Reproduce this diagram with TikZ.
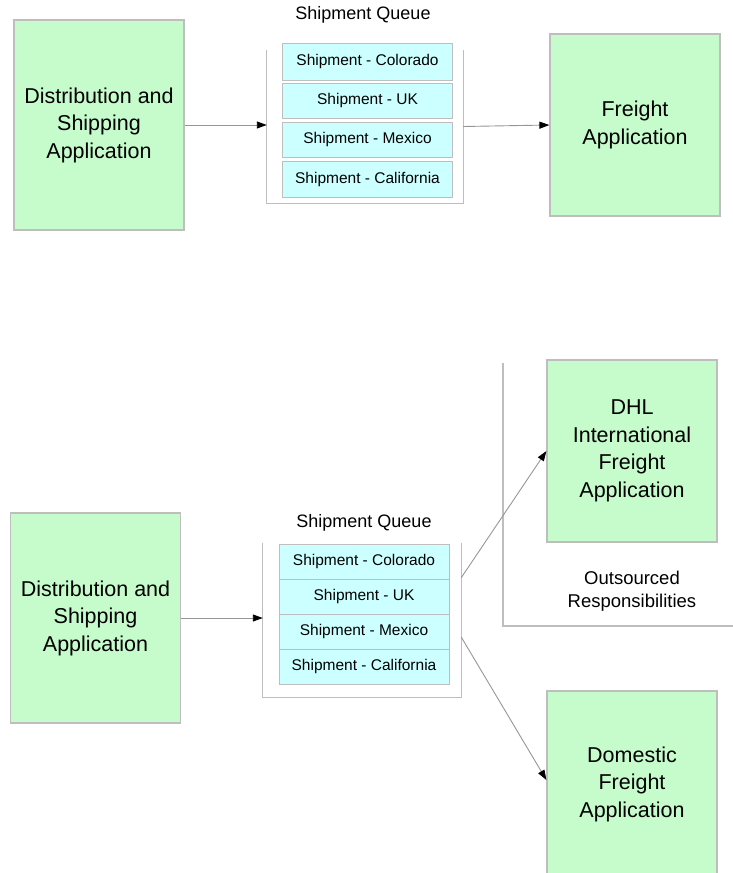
\documentclass[tikz,border=0pt]{standalone}
\usepackage{fontspec}
\setmainfont{Liberation Sans}
\usetikzlibrary{arrows.meta,calc}
\definecolor{appgreen}{RGB}{198,252,204}
\definecolor{cellcyan}{RGB}{204,255,255}
\definecolor{edgegray}{RGB}{190,190,190}
\definecolor{linegray}{RGB}{150,150,150}
\tikzset{
  app/.style={draw=edgegray, fill=appgreen, line width=1.2pt, minimum width=170pt,
    inner sep=0pt, align=center, font=\fontsize{21.5}{27.5}\selectfont},
  cell/.style={draw=edgegray, fill=cellcyan, line width=1pt, minimum width=170pt,
    minimum height=35pt, inner sep=0pt, font=\fontsize{15.5}{18}\selectfont},
  qlabel/.style={inner sep=0pt, font=\fontsize{18}{22}\selectfont},
  noteText/.style={inner sep=0pt, align=center, font=\fontsize{18.5}{23}\selectfont},
  tray/.style={draw=edgegray, line width=1.2pt},
  flow/.style={draw=linegray, line width=0.9pt,
    -{Triangle[length=10pt,width=7pt,color=black]}},
}
\begin{document}
\begin{tikzpicture}[x=1pt, y=-1pt]
\useasboundingbox (0,0) rectangle (732,873);

% ---------- single freight consumer ----------
\node[app, minimum height=210pt] (distA) at (99,125) {Distribution and\\Shipping\\Application};
\node[minimum width=196pt, minimum height=153pt, inner sep=0pt] (trayA) at (365,126.5) {};
\draw[tray] (trayA.north west) |- (trayA.south east) -- (trayA.north east);
\node[qlabel] (labelA) at (363,15) {Shipment Queue};
\node[cell, minimum height=37pt] (a1) at (367.5,61.5) {Shipment - Colorado};
\node[cell] (a2) at (367.5,100.5) {Shipment - UK};
\node[cell] (a3) at (367.5,139.5) {Shipment - Mexico};
\node[cell, minimum height=36pt] (a4) at (367.5,179) {Shipment - California};
\node[app, minimum height=182pt] (freight) at (635,125) {Freight\\Application};

\draw[flow] (distA.east) -- (trayA.west |- distA.east);
\draw[flow] (trayA.east) -- (freight.west);

% ---------- split between outsourced and domestic freight ----------
\node[app, minimum height=210pt] (distB) at (95.5,618) {Distribution and\\Shipping\\Application};
\node[minimum width=198pt, minimum height=154pt, inner sep=0pt] (trayB) at (362,620) {};
\draw[tray] (trayB.north west) |- (trayB.south east) -- (trayB.north east);
\node[qlabel] (labelB) at (364,523) {Shipment Queue};
\node[cell] (b1) at (364,561.5) {Shipment - Colorado};
\node[cell] (b2) at (364,596.5) {Shipment - UK};
\node[cell] (b3) at (364,631.5) {Shipment - Mexico};
\node[cell] (b4) at (364,666.5) {Shipment - California};

\node[app, minimum height=182pt] (dhl) at (632,451) {DHL\\International\\Freight\\Application};
\node[app, minimum height=186pt] (domestic) at (632,784) {Domestic\\Freight\\Application};

% outsourced area bracket
\coordinate (outTop) at (503,363);
\coordinate (outCorner) at (503,626);
\coordinate (outEnd) at (740,626);
\draw[tray] (outTop) -- (outCorner) -- (outEnd);
\node[noteText] (outsourced) at (632,591) {Outsourced\\Responsibilities};

\coordinate (toDhl) at ($(trayB.north east)+(0,35)$);
\coordinate (toDom) at ($(trayB.east)+(0,17)$);
\draw[flow] (distB.east) -- (trayB.west |- distB.east);
\draw[flow] (toDhl) -- (dhl.west);
\draw[flow] (toDom) -- ($(domestic.west)+(0,-4)$);
\end{tikzpicture}
\end{document}
